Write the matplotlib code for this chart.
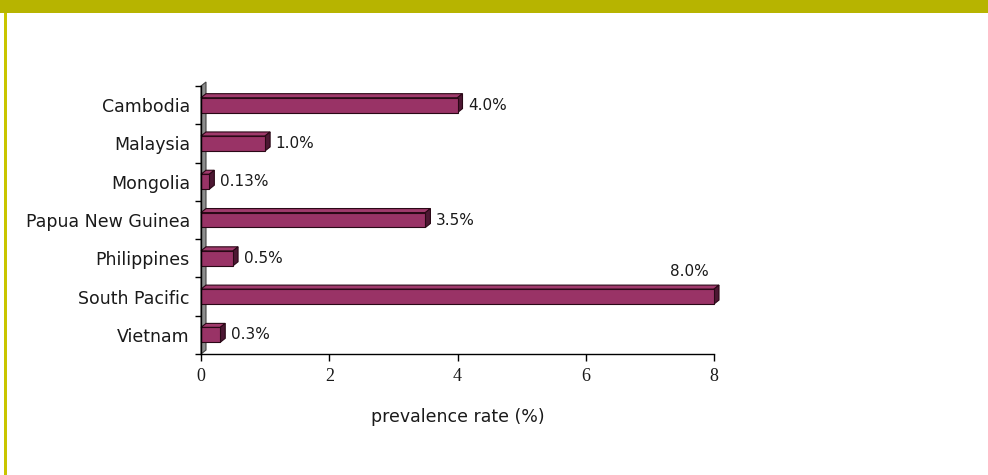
import matplotlib
matplotlib.use("Agg")
import matplotlib.pyplot as plt
from matplotlib.patches import Polygon, Rectangle
import numpy as np

# Data
countries = ["Cambodia", "Malaysia", "Mongolia", "Papua New Guinea",
             "Philippines", "South Pacific", "Vietnam"]
prevalence = [4.0, 1.0, 0.13, 3.5, 0.5, 8.0, 0.3]
value_labels = ["4.0%", "1.0%", "0.13%", "3.5%", "0.5%", "8.0%", "0.3%"]
x_ticks = [0, 2, 4, 6, 8]
x_title = "prevalence rate (%)"

W, H = 988, 475
DPI = 100
fig = plt.figure(figsize=(W / DPI, H / DPI), dpi=DPI)
fig.patch.set_facecolor("white")

# Frame decoration: olive band at top and thin line on the left
olive = "#b7b400"
fig.add_artist(Rectangle((0, 1 - 13 / H), 1, 13 / H, transform=fig.transFigure,
                         facecolor=olive, edgecolor="none", zorder=0))
fig.add_artist(Rectangle((4 / W, 0), 3 / W, 1 - 13 / H, transform=fig.transFigure,
                         facecolor="#c9c500", edgecolor="none", zorder=0))

# Plot area
left_px, right_px, top_px, bottom_px = 201, 714, 86, 354
ax = fig.add_axes([left_px / W, 1 - bottom_px / H,
                   (right_px - left_px) / W, (bottom_px - top_px) / H])
ax.set_facecolor("none")

n = len(countries)
ypos = np.arange(n)
ax.set_xlim(0, 8)
ax.set_ylim(n - 0.5, -0.5)

# depth of the 3-D effect in data units
depth_x_px, depth_y_px = 5, 4
px_per_x = (right_px - left_px) / 8.0
px_per_y = (bottom_px - top_px) / n
dx = depth_x_px / px_per_x
dy = depth_y_px / px_per_y

front = "#993366"
side = "#4d1733"
topc = "#a03a6c"
edge = "#2a0816"
text_col = "#1a1a1a"
bh = 0.39

# back wall along the value axis
wall = Polygon([(0, n - 0.5), (0, -0.5), (dx, -0.5 - dy), (dx, n - 0.5 - dy)],
               closed=True, facecolor="#8c8c8c", edgecolor="#444444",
               linewidth=0.8, clip_on=False, zorder=1)
ax.add_patch(wall)

for y, v in zip(ypos, prevalence):
    y0, y1 = y - bh / 2, y + bh / 2
    # top face
    ax.add_patch(Polygon([(0, y0), (v, y0), (v + dx, y0 - dy), (dx, y0 - dy)],
                         closed=True, facecolor=topc, edgecolor=edge,
                         linewidth=0.8, clip_on=False, zorder=3))
    # right face
    ax.add_patch(Polygon([(v, y0), (v + dx, y0 - dy), (v + dx, y1 - dy), (v, y1)],
                         closed=True, facecolor=side, edgecolor=edge,
                         linewidth=0.8, clip_on=False, zorder=3))
ax.barh(ypos, prevalence, height=bh, color=front, edgecolor=edge,
        linewidth=0.8, zorder=4, clip_on=False)

# value labels
for y, v, lab in zip(ypos, prevalence, value_labels):
    if v >= 8:
        ax.annotate(lab, (v, y), xytext=(-4, 18), textcoords="offset points",
                    ha="right", va="center", fontsize=11,
                    family="DejaVu Sans", color=text_col, zorder=5)
    else:
        ax.annotate(lab, (v + dx, y), xytext=(4, 0), textcoords="offset points",
                    ha="left", va="center", fontsize=11,
                    family="DejaVu Sans", color=text_col, zorder=5)

# axes styling
for s in ("top", "right"):
    ax.spines[s].set_visible(False)
for s in ("left", "bottom"):
    ax.spines[s].set_linewidth(1.0)
    ax.spines[s].set_color("black")
    ax.spines[s].set_zorder(6)

ax.set_xticks(x_ticks)
ax.set_xticklabels([str(t) for t in x_ticks], family="Liberation Serif",
                   fontsize=13, color=text_col)
ax.tick_params(axis="x", direction="out", length=5, width=1, pad=5)

ax.set_yticks(ypos)
ax.set_yticklabels(countries, family="DejaVu Sans", fontsize=12.5,
                   color=text_col)
ax.set_yticks(np.arange(-0.5, n, 1.0), minor=True)
ax.tick_params(axis="y", which="major", length=0, pad=8)
ax.tick_params(axis="y", which="minor", direction="out", length=4, width=1)

ax.set_xlabel(x_title, family="DejaVu Sans", fontsize=12.5, labelpad=17,
              color=text_col)

fig.savefig("out.png", dpi=DPI)
